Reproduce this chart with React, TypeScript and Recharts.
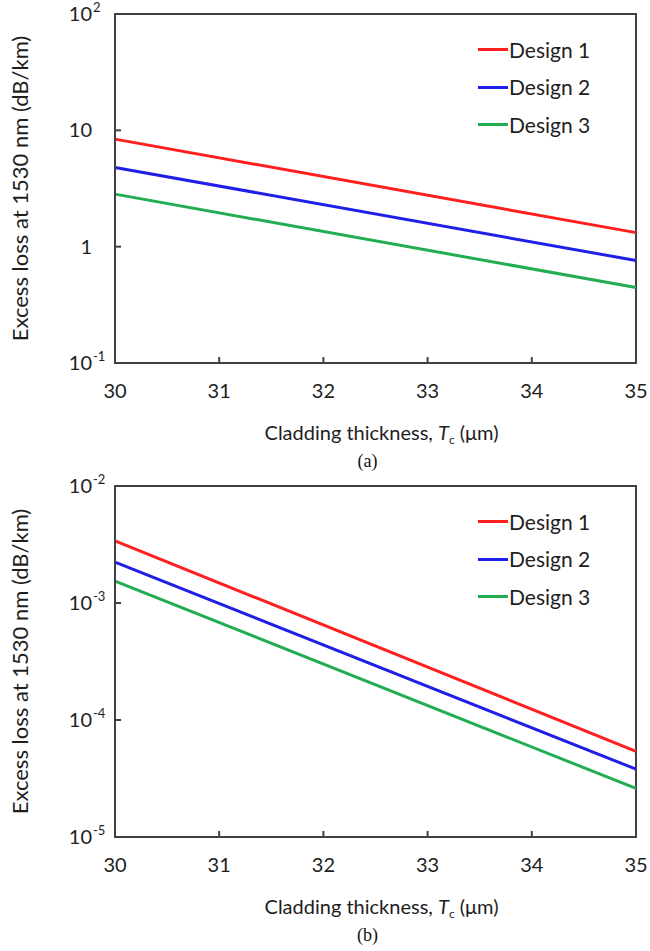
import React from 'react';
import { LineChart, Line, XAxis, YAxis, ReferenceArea, Legend } from 'recharts';

// ---- data ----
const thickness = [30, 35];
const xTicks = [30, 31, 32, 33, 34, 35];
const seriesKeys = ['d1', 'd2', 'd3'];
const seriesNames = ['Design 1', 'Design 2', 'Design 3'];
const seriesColors = ['#ff1f1f', '#1f1fe8', '#22ad52'];

// panel (a)
const lossA1 = [8.4, 1.32];
const lossA2 = [4.8, 0.76];
const lossA3 = [2.83, 0.445];
const yTicksA = [0.1, 1, 10, 100];
const yTickBaseA = ['10', '1', '10', '10'];
const yTickExpA = ['-1', '', '', '2'];

// panel (b)
const lossB1 = [3.4e-3, 5.4e-5];
const lossB2 = [2.24e-3, 3.8e-5];
const lossB3 = [1.54e-3, 2.6e-5];
const yTicksB = [1e-5, 1e-4, 1e-3, 1e-2];
const yTickBaseB = ['10', '10', '10', '10'];
const yTickExpB = ['-5', '-4', '-3', '-2'];

const yLabelText = 'Excess loss at 1530 nm (dB/km)';
const xLabelText = 'Cladding thickness, ';

const FONT = 'Lato, "Open Sans", sans-serif';
const TEXT = '#1e1e1e';
const AXIS = '#404040';

const dataA = thickness.map((t, i) => ({ t, d1: lossA1[i], d2: lossA2[i], d3: lossA3[i] }));
const dataB = thickness.map((t, i) => ({ t, d1: lossB1[i], d2: lossB2[i], d3: lossB3[i] }));

const XTick = (props: any) => {
  const { x, y, payload } = props;
  return (
    <g>
      <line x1={x} y1={y} x2={x} y2={y - 6} stroke={AXIS} strokeWidth={2} />
      <text x={x} y={y + 35} textAnchor="middle" fontFamily={FONT} fontSize={20} fill={TEXT}>
        {payload.value}
      </text>
    </g>
  );
};

const makeYTick = (ticks: number[], bases: string[], exps: string[]) => (props: any) => {
  const { x, y, payload } = props;
  const i = ticks.findIndex((t) => Math.abs(Math.log10(t) - Math.log10(payload.value)) < 1e-6);
  const base = i >= 0 ? bases[i] : String(payload.value);
  const exp = i >= 0 ? exps[i] : '';
  return (
    <g>
      <line x1={x} y1={y} x2={x + 6} y2={y} stroke={AXIS} strokeWidth={2} />
      <text x={x - 23} y={y + 7} textAnchor="end" fontFamily={FONT} fontSize={20} fill={TEXT}>
        {base}
      </text>
      {exp ? (
        <text x={x - 22} y={y - 2} textAnchor="start" fontFamily={FONT} fontSize={13} fill={TEXT}>
          {exp}
        </text>
      ) : null}
    </g>
  );
};

const makeXLabel = (caption: string) => (props: any) => {
  const vb = props.viewBox || { x: 115, y: 363, width: 521 };
  const cx = vb.x + vb.width / 2 + 6;
  return (
    <g>
      <text x={cx} y={vb.y + 77} textAnchor="middle" fontFamily={FONT} fontSize={20} fill={TEXT}>
        {xLabelText}
        <tspan fontStyle="italic">T</tspan>
        <tspan fontSize={12} dy={4}>c</tspan>
        <tspan dy={-4}> (μm)</tspan>
      </text>
      <text x={cx - 14} y={vb.y + 104} textAnchor="middle" fontFamily='"Liberation Serif", "Times New Roman", serif' fontSize={18} fill="#111">
        {caption}
      </text>
    </g>
  );
};

const YLabel = (props: any) => {
  const vb = props.viewBox || { x: 0, y: 14, width: 115, height: 349 };
  const cy = vb.y + vb.height / 2;
  const bx = 28;
  return (
    <text
      x={bx}
      y={cy}
      transform={`rotate(-90, ${bx}, ${cy})`}
      textAnchor="middle"
      fontFamily={FONT}
      fontSize={22}
      fill={TEXT}
    >
      {yLabelText}
    </text>
  );
};

const LegendContent = (props: any) => {
  const payload = props.payload || [];
  return (
    <div>
      {payload.map((p: any) => (
        <div key={p.value} style={{ display: 'flex', alignItems: 'center', height: 37.5 }}>
          <span style={{ display: 'inline-block', width: 30, height: 3, background: p.color }} />
          <span style={{ fontFamily: FONT, fontSize: 21, color: TEXT, marginLeft: 1, lineHeight: '22px' }}>
            {p.value}
          </span>
        </div>
      ))}
    </div>
  );
};

type PanelProps = {
  data: any[];
  height: number;
  xAxisHeight: number;
  domain: [number, number];
  ticks: number[];
  bases: string[];
  exps: string[];
  caption: string;
};

const Panel = ({ data, height, xAxisHeight, domain, ticks, bases, exps, caption }: PanelProps) => (
  <LineChart width={650} height={height} data={data} margin={{ top: 14, right: 14, left: 0, bottom: 0 }}>
    <XAxis
      dataKey="t"
      type="number"
      domain={[30, 35]}
      ticks={xTicks}
      height={xAxisHeight}
      tickSize={0}
      tickMargin={0}
      tickLine={false}
      axisLine={{ stroke: AXIS, strokeWidth: 2 }}
      tick={<XTick />}
      interval={0}
      label={makeXLabel(caption)}
    />
    <YAxis
      type="number"
      scale="log"
      domain={domain}
      ticks={ticks}
      allowDataOverflow
      width={115}
      tickSize={0}
      tickMargin={0}
      tickLine={false}
      axisLine={{ stroke: AXIS, strokeWidth: 2 }}
      tick={makeYTick(ticks, bases, exps)}
      interval={0}
      label={YLabel}
    />
    <ReferenceArea x1={30} x2={35} y1={domain[0]} y2={domain[1]} fill="none" stroke={AXIS} strokeWidth={2} />
    {seriesKeys.map((k, i) => (
      <Line
        key={k}
        dataKey={k}
        name={seriesNames[i]}
        stroke={seriesColors[i]}
        strokeWidth={3}
        dot={false}
        activeDot={false}
        type="linear"
        isAnimationActive={false}
      />
    ))}
    <Legend
      layout="horizontal"
      verticalAlign="middle"
      align="center"
      content={<LegendContent />}
      wrapperStyle={{ position: 'absolute', left: 478, top: 31, width: 'auto', height: 'auto' }}
    />
  </LineChart>
);

export default function App() {
  return (
    <div style={{ position: 'absolute', left: 0, top: 0, width: 650, height: 951, background: '#fff' }}>
      <Panel data={dataA} height={472} xAxisHeight={109} domain={[0.1, 100]} ticks={yTicksA} bases={yTickBaseA} exps={yTickExpA} caption="(a)" />
      <Panel data={dataB} height={479} xAxisHeight={114} domain={[1e-5, 1e-2]} ticks={yTicksB} bases={yTickBaseB} exps={yTickExpB} caption="(b)" />
    </div>
  );
}
